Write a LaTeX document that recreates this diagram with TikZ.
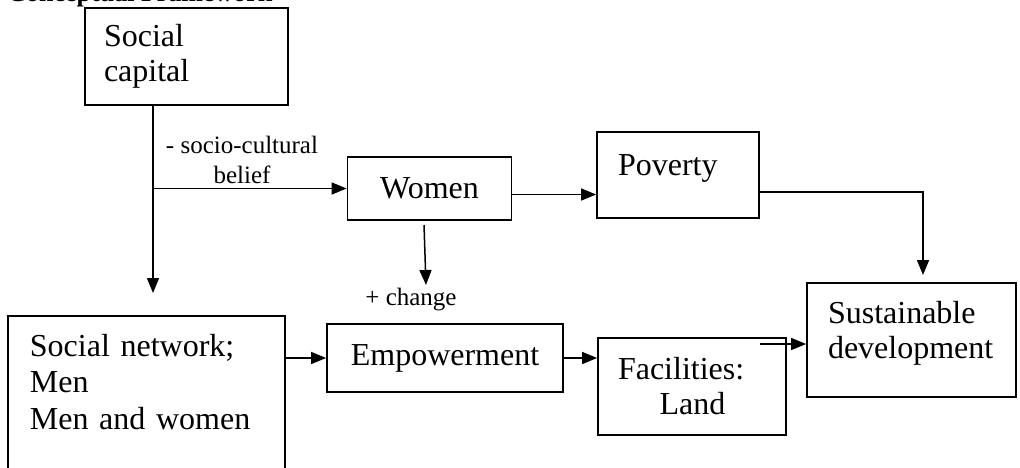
\documentclass[tikz,border=0pt]{standalone}
\usepackage{fontspec}
\setmainfont{Liberation Serif}
\usetikzlibrary{arrows.meta}

\begin{document}
\begin{tikzpicture}[x=0.5pt,y=-0.5pt,
    box/.style={draw, line width=0.9pt, font=\fontsize{16pt}{17.5pt}\selectfont, inner ysep=2pt},
    lbl/.style={font=\fontsize{12.5pt}{15pt}\selectfont, align=center, inner sep=0pt},
    ttl/.style={font=\fontsize{13pt}{15pt}\selectfont\bfseries, inner sep=0pt},
    arr/.style={-{Triangle[length=7.5pt,width=6pt]}, line width=0.75pt}]

    \useasboundingbox (0,0) rectangle (1020,467);

    \node[ttl, anchor=base west] (title) at (7,1) {Conceptual Framework};

    \node[box, align=left, text width=82.5pt, inner xsep=9.5pt, minimum height=48.5pt] (cap) at (186.5,56.5) {Social\\capital};
    \node[box, minimum width=82pt, minimum height=31.5pt] (women) at (429.5,188.5) {Women};
    \node[box, align=left, text width=60pt, inner xsep=10.5pt, minimum height=43pt, text depth=10pt] (pov) at (678,175) {Poverty};
    \node[box, align=left, text width=83.5pt, inner xsep=10.5pt, minimum height=57pt] (sust) at (911.5,340) {Sustainable\\development\rule[-10.5pt]{0pt}{0pt}};
    \node[box, align=left, text width=116.5pt, inner xsep=11pt, inner ysep=9pt, anchor=north west,
          font=\fontsize{16pt}{18.3pt}\selectfont] (net) at (7,315) {Social network;\\Men\\Men and women\rule[-40pt]{0pt}{0pt}};
    \node[box, minimum width=118pt, minimum height=34pt] (emp) at (445,358) {Empowerment};
    \node[box, align=left, text width=74pt, inner xsep=10pt, minimum height=48.5pt] (fac) at (692,386.5) {Facilities:\\\hspace*{1.3em}Land};

    \node[lbl] (belief) at (242,160) {- socio-cultural\\belief};
    \node[lbl] (change) at (411,300) {+ change};

    \coordinate (c1) at (153,293);
    \coordinate (c2) at (923,275);
    \coordinate (c3a) at (424,225);
    \coordinate (c3b) at (426,285);
    \coordinate (c4) at (760,344);

    \draw [arr] (c1 |- cap.south) -- (c1);
    \draw [arr] (c1 |- women.west) -- (women.west);
    \draw [arr] ([yshift=-3pt]women.east) -- ([yshift=-3pt]women.east -| pov.west);
    \draw [arr] ([yshift=-8.5pt]pov.east) -| (c2);
    \draw [arr] (c3a) -- (c3b);
    \draw [arr] (net.east |- emp.west) -- (emp.west);
    \draw [arr] (emp.east) -- (emp.east -| fac.west);
    \draw [arr] (c4) -- (c4 -| sust.west);

\end{tikzpicture}
\end{document}
